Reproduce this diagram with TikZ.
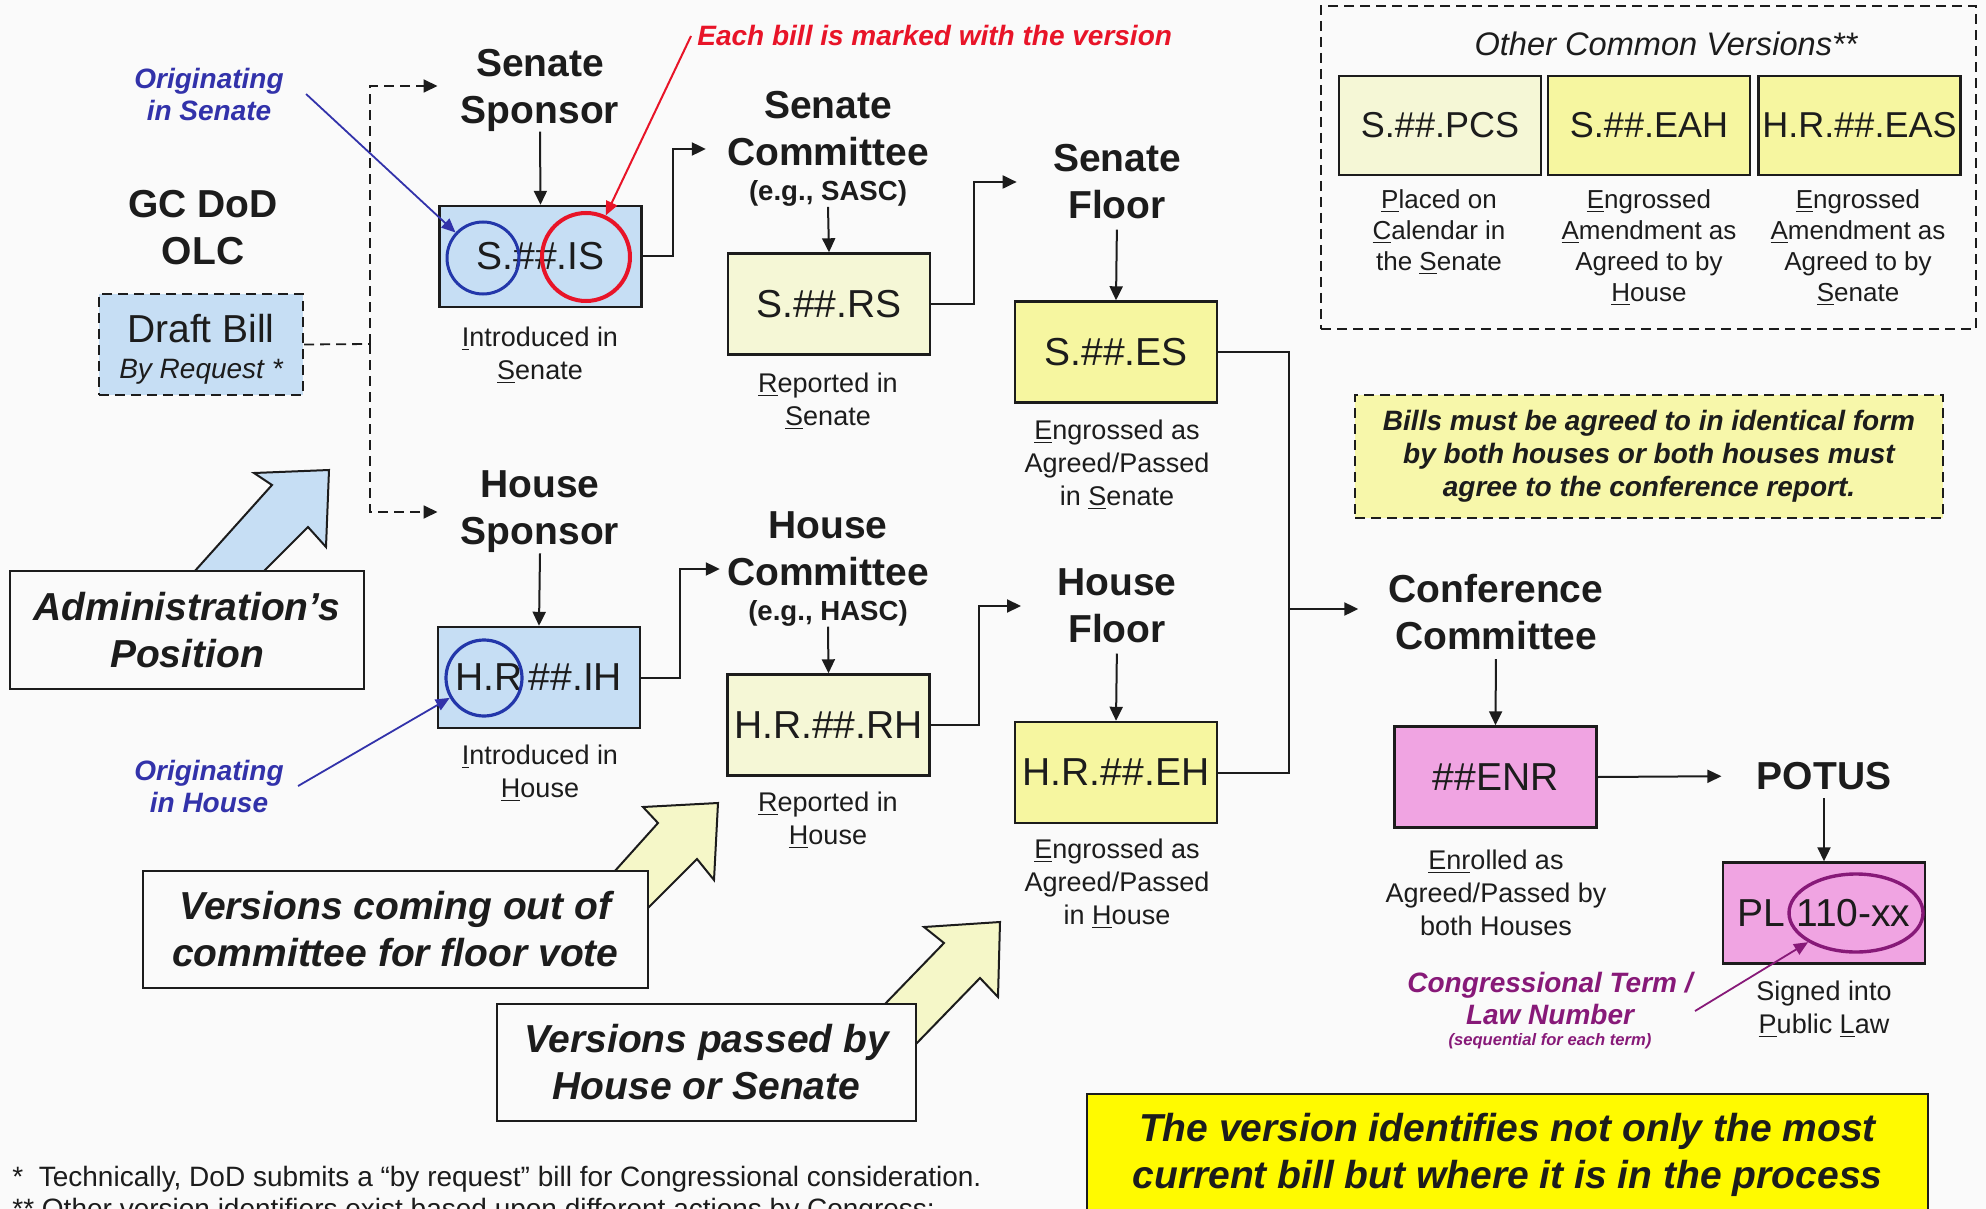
\documentclass[tikz,border=0pt]{standalone}
\usepackage{fontspec}
\setmainfont{Liberation Sans}
\usetikzlibrary{arrows.meta,shapes.geometric,calc}
\definecolor{bg}{RGB}{250,250,250}
\definecolor{ink}{RGB}{28,28,28}
\definecolor{lblue}{RGB}{198,222,244}
\definecolor{pyel}{RGB}{245,247,214}
\definecolor{yel}{RGB}{246,246,160}
\definecolor{yel2}{RGB}{247,247,170}
\definecolor{pinkb}{RGB}{240,164,226}
\definecolor{byel}{RGB}{255,250,0}
\definecolor{oblue}{RGB}{50,50,170}
\definecolor{cblue}{RGB}{35,55,170}
\definecolor{ored}{RGB}{232,20,40}
\definecolor{purp}{RGB}{135,25,120}
\definecolor{arrfill}{RGB}{245,247,200}
\begin{document}
\begin{tikzpicture}[x=0.5pt,y=-0.5pt,
 hdr/.style={align=center,inner sep=0pt,text=ink,font=\fontsize{19.5}{23.5}\selectfont\bfseries},
 vbox/.style={draw=ink,line width=1.2pt,minimum width=101pt,minimum height=50.5pt,inner sep=0pt,text=ink,font=\fontsize{19.5}{23.5}\selectfont},
 capt/.style={align=center,inner sep=0pt,text=ink,font=\fontsize{13.5}{16.5}\selectfont},
 ocapt/.style={align=center,inner sep=0pt,text=ink,font=\fontsize{13}{15.5}\selectfont},
 arr/.style={draw=ink,line width=1pt,-{Triangle[length=7pt,width=6.5pt]}},
 conn/.style={draw=ink,line width=1pt},
 dconn/.style={draw=ink,line width=0.9pt,dash pattern=on 5pt off 3pt},
 blk/.style={draw=ink,line width=1pt,line join=miter},
 callout/.style={draw=ink,line width=1.2pt,fill=bg,align=center,inner sep=0pt,text=ink,font=\fontsize{19.5}{23.5}\selectfont\bfseries\itshape},
]
\fill[bg] (0,0) rectangle (1986,1209);
\useasboundingbox (0,0) rectangle (1986,1209);

% ---- big hollow arrows
\draw[blk,fill=lblue] (194,572) -- (272,485) -- (254,473) -- (329,470) -- (326,547) -- (308,527) -- (263,572) -- cycle;
\draw[blk,fill=arrfill] (614,872) -- (658,823) -- (643,807) -- (718,803) -- (714,880) -- (697,859) -- (648,908) -- cycle;
\draw[blk,fill=arrfill] (884,1005) -- (944,943) -- (924,927) -- (1000,922) -- (998,997) -- (980,978) -- (916,1044) -- cycle;

% ---- callout boxes
\node[callout,minimum width=177pt,minimum height=59pt] (admin) at (187,630) {Administration’s\\Position};
\node[callout,minimum width=252.5pt,minimum height=58.5pt] (vcom) at (395.5,929.5) {Versions coming out of\\committee for floor vote};
\node[callout,minimum width=209.5pt,minimum height=58.5pt] (vpas) at (706.5,1062.5) {Versions passed by\\House or Senate};

% ---- left: GC DoD
\node[hdr] (gc) at (203,228) {GC DoD\\OLC};
\node[draw=ink,line width=1.1pt,dash pattern=on 5pt off 3pt,fill=lblue,minimum width=102pt,minimum height=50.5pt,inner sep=0pt,align=center,text=ink,font=\fontsize{19.5}{23.5}\selectfont] (draft) at (201,344.5) {\rule{0pt}{19pt}Draft Bill\\[-5.5pt]{\fontsize{14}{16}\selectfont\itshape By Request *}};

% ---- headers
\node[hdr] (senSp) at (540,90) {Senate\\Sponsor};
\node[hdr] (houSp) at (540,512) {House\\Sponsor};
\node[hdr] (senCom) at (828,149) {Senate\\Committee\\[-6pt]{\fontsize{13.8}{16}\selectfont (e.g., SASC)}};
\node[hdr] (houCom) at (828,569) {House\\Committee\\[-6pt]{\fontsize{13.8}{16}\selectfont (e.g., HASC)}};
\node[hdr] (senFl) at (1117,182) {Senate\\Floor};
\node[hdr] (houFl) at (1117,606) {House\\Floor};
\node[hdr] (conf) at (1496,612) {Conference\\Committee};
\node[hdr] (potus) at (1824,776) {POTUS};

% ---- version boxes
\node[vbox,fill=lblue] (isb) at (540.5,256.5) {S.\#\#.IS};
\node[vbox,fill=pyel] (rsb) at (829,304) {S.\#\#.RS};
\node[vbox,fill=yel] (esb) at (1116,352) {S.\#\#.ES};
\node[vbox,fill=lblue] (ihb) at (539,677.5) {H.R\hspace{3pt}\#\#.IH};
\node[vbox,fill=pyel] (rhb) at (828.5,725) {H.R.\#\#.RH};
\node[vbox,fill=yel] (ehb) at (1116,772.5) {H.R.\#\#.EH};
\node[vbox,fill=pinkb] (enr) at (1495.5,777) {\#\#ENR};
\node[vbox,fill=pinkb] (pl) at (1824,913) {PL 110-xx};

% ---- captions
\node[capt] (capIS) at (540,355) {\underline{I}ntroduced in\\\underline{S}enate};
\node[capt] (capRS) at (828,401) {\underline{R}eported in\\\underline{S}enate};
\node[capt] (capES) at (1117,465) {\underline{E}ngrossed as\\Agreed/Passed\\in \underline{S}enate};
\node[capt] (capIH) at (540,773) {\underline{I}ntroduced in\\\underline{H}ouse};
\node[capt] (capRH) at (828,820) {\underline{R}eported in\\\underline{H}ouse};
\node[capt] (capEH) at (1117,884) {\underline{E}ngrossed as\\Agreed/Passed\\in \underline{H}ouse};
\node[capt] (capENR) at (1496,893) {\underline{Enr}olled as\\Agreed/Passed by\\both Houses};
\node[capt] (capPL) at (1824,1009) {Signed into\\\underline{P}ublic \underline{L}aw};

% ---- circles and ellipse
\node[circle,draw=cblue,line width=1.5pt,minimum size=36pt,inner sep=0pt] (cb1) at (483,258) {};
\node[circle,draw=ored,line width=2pt,minimum size=44pt,inner sep=0pt] (cr1) at (586,257) {};
\node[circle,draw=cblue,line width=1.6pt,minimum size=38pt,inner sep=0pt] (cb2) at (484,678) {};
\node[ellipse,draw=purp,line width=1.7pt,minimum width=67pt,minimum height=39pt,inner sep=0pt] (pe) at (1856,913) {};

% ---- annotations
\node[align=center,inner sep=0pt,text=oblue,font=\fontsize{14}{16}\selectfont\bfseries\itshape] (origS) at (209,94) {Originating\\in Senate};
\node[align=center,inner sep=0pt,text=oblue,font=\fontsize{14}{16}\selectfont\bfseries\itshape] (origH) at (209,786) {Originating\\in House};
\node[anchor=west,inner sep=0pt,text=ored,font=\fontsize{14}{16}\selectfont\bfseries\itshape] (each) at (697,36) {Each bill is marked with the version};
\node[align=center,inner sep=0pt,text=purp,font=\fontsize{14}{16}\selectfont\bfseries\itshape] (cong) at (1550,1011) {Congressional Term /\\Law Number\\[-5.5pt]{\fontsize{8.3}{10}\selectfont (sequential for each term)}};

\draw[draw=oblue,line width=0.9pt,-{Triangle[length=7pt,width=6pt]}] ([xshift=11pt]origS.east) -- (cb1);
\draw[draw=oblue,line width=0.9pt,-{Triangle[length=7pt,width=6pt]}] ([xshift=7pt]origH.east) -- (cb2);
\draw[draw=ored,line width=1pt,-{Triangle[length=7pt,width=6pt]}] ([xshift=-3pt]each.west) -- (cr1);
\draw[draw=purp,line width=0.9pt,-{Triangle[length=7pt,width=6pt]}] ([xshift=1pt]cong.east) -- (pe);

% ---- dashed connector from draft bill
\coordinate (dj) at (370,344);
\draw[dconn] (draft.east) -- (dj);
\draw[dconn,-{Triangle[length=7pt,width=6.5pt]},shorten >=11.5pt] (dj) |- ([yshift=2pt]senSp.west);
\draw[dconn,-{Triangle[length=7pt,width=6.5pt]},shorten >=11.5pt] (dj) |- (houSp.west);

% ---- vertical arrows
\draw[arr] (senSp.south) -- (isb.north);
\draw[arr] (houSp.south) -- (ihb.north);
\draw[arr] (senCom.south) -- (rsb.north);
\draw[arr] (houCom.south) -- (rhb.north);
\draw[arr,shorten <=5pt] (senFl.south) -- (esb.north);
\draw[arr,shorten <=5pt] (houFl.south) -- (ehb.north);
\draw[arr,shorten <=4.5pt] (conf.south) -- (enr.north);
\draw[arr,shorten <=4pt] (potus.south) -- (pl.north);

% ---- step connectors
\draw[arr,shorten >=10.5pt] (isb.east) -- ++(30,0) |- (senCom.west);
\draw[arr,shorten >=18pt] (rsb.east) -- ++(43,0) |- (senFl.west);
\draw[arr,shorten >=3.5pt] (ihb.east) -- ++(39,0) |- (houCom.west);
\draw[arr,shorten >=18pt] (rhb.east) -- ++(48,0) |- (houFl.west);
\coordinate (mj) at (1289,609);
\draw[conn] (esb.east) -| (mj);
\draw[conn] (ehb.east) -| (mj);
\draw[arr,shorten >=15pt] (mj) -- (mj -| conf.west);
\draw[arr,shorten >=17.5pt] (enr.east) -- (potus.west);

% ---- other common versions
\node[draw=ink,line width=1pt,dash pattern=on 5pt off 3pt,minimum width=327.5pt,minimum height=161.5pt,inner sep=0pt] (other) at (1648.5,167.5) {};
\node[inner sep=0pt,text=ink,font=\fontsize{16.3}{19}\selectfont\itshape] (othT) at (1666,44) {Other Common Versions**};
\node[vbox,fill=pyel,minimum height=49.5pt,font=\fontsize{18}{22}\selectfont] (pcs) at (1440,125.5) {S.\#\#.PCS};
\node[vbox,fill=yel,minimum height=49.5pt,font=\fontsize{18}{22}\selectfont] (eah) at (1649,125.5) {S.\#\#.EAH};
\node[vbox,fill=yel,minimum height=49.5pt,font=\fontsize{18}{22}\selectfont] (eas) at (1859.5,125.5) {H.R.\#\#.EAS};
\node[ocapt] (capPCS) at (1439,232) {\underline{P}laced on\\\underline{C}alendar in\\the \underline{S}enate};
\node[ocapt] (capEAH) at (1649,248) {\underline{E}ngrossed\\\underline{A}mendment as\\Agreed to by\\\underline{H}ouse};
\node[ocapt] (capEAS) at (1858,248) {\underline{E}ngrossed\\\underline{A}mendment as\\Agreed to by\\\underline{S}enate};

% ---- notes
\node[draw=ink,line width=1pt,dash pattern=on 5pt off 3pt,fill=yel2,minimum width=294pt,minimum height=61.5pt,inner sep=0pt,align=center,text=ink,font=\fontsize{14}{16.5}\selectfont\bfseries\itshape] (bills) at (1649,456.5) {Bills must be agreed to in identical form\\by both houses or both houses must\\agree to the conference report.};
\node[draw=ink,line width=1.2pt,fill=byel,minimum width=420.5pt,minimum height=60.5pt,inner sep=0pt,align=center,text=ink,font=\fontsize{19.5}{23.5}\selectfont\bfseries\itshape] (ver) at (1507.5,1154.5) {The version identifies not only the most\\current bill but where it is in the process};

% ---- footnotes
\node[anchor=west,inner sep=0pt,text=ink,font=\fontsize{14}{16}\selectfont] (fn1) at (12,1179) {*\ \ Technically, DoD submits a “by request” bill for Congressional consideration.};
\node[anchor=west,inner sep=0pt,text=ink,font=\fontsize{14}{16}\selectfont] (fn2) at (12,1211) {** Other version identifiers exist based upon different actions by Congress;};
\end{tikzpicture}
\end{document}
